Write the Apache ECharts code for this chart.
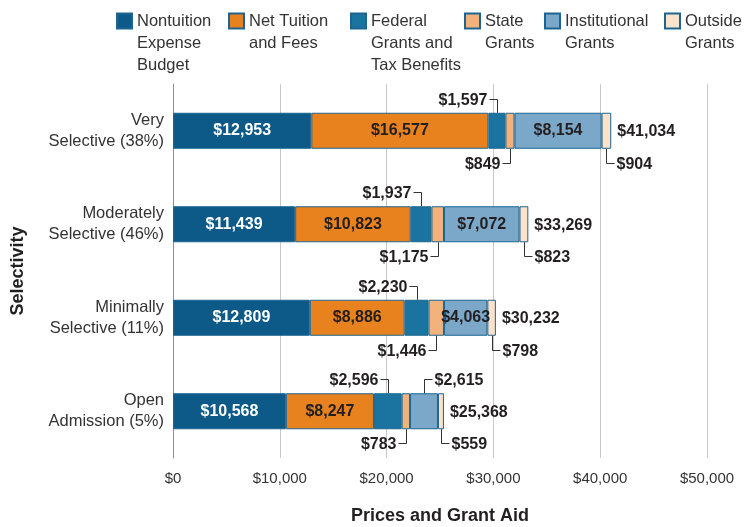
<!DOCTYPE html>
<html>
<head>
<meta charset="utf-8">
<script src="https://cdn.jsdelivr.net/npm/echarts@6/dist/echarts.min.js"></script>
<style>
  html, body { margin: 0; padding: 0; background: #fff; }
  #chart { width: 750px; height: 527px; }
</style>
</head>
<body>
<div id="chart"></div>
<script>
// categories (top to bottom)
const categories = [
  'Very\nSelective (38%)',
  'Moderately\nSelective (46%)',
  'Minimally\nSelective (11%)',
  'Open\nAdmission (5%)'
];

// series values, same order as categories
const nontuition = [12953, 11439, 12809, 10568];
const netTuition = [16577, 10823, 8886, 8247];
const federalGrants = [1597, 1937, 2230, 2596];
const stateGrants = [849, 1175, 1446, 783];
const institutionalGrants = [8154, 7072, 4063, 2615];
const outsideGrants = [904, 823, 798, 559];

const seriesNames = [
  'Nontuition\nExpense\nBudget',
  'Net Tuition\nand Fees',
  'Federal\nGrants and\nTax Benefits',
  'State\nGrants',
  'Institutional\nGrants',
  'Outside\nGrants'
];
const colors = ['#0d5a88', '#e8821e', '#1b74a0', '#f2b27b', '#7ba7c9', '#fbe2cb'];
const allSeries = [nontuition, netTuition, federalGrants, stateGrants, institutionalGrants, outsideGrants];

// where institutional grants label does not fit inside the bar
const institutionalOutside = [false, false, false, true];

const FONT = "'Liberation Sans', Arial, sans-serif";
const TEXT = '#231f20';
const fmt = v => '$' + Number(v).toLocaleString('en-US');

const totals = categories.map((c, i) => allSeries.reduce((s, arr) => s + arr[i], 0));

const chart = echarts.init(document.getElementById('chart'));

const valueLabel = (color) => ({
  show: true,
  position: 'inside',
  color: color,
  fontFamily: FONT,
  fontWeight: 'bold',
  fontSize: 16,
  formatter: p => fmt(p.value)
});

const barSeries = seriesNames.map((name, k) => {
  let data = allSeries[k].slice();
  let label = { show: false };
  if (k === 0) label = valueLabel('#fff');
  if (k === 1) label = valueLabel(TEXT);
  if (k === 4) {
    label = valueLabel(TEXT);
    data = data.map((v, i) => institutionalOutside[i] ? { value: v, label: { show: false } } : v);
  }
  return {
    name: name,
    type: 'bar',
    stack: 'total',
    barWidth: 36,
    data: data,
    label: label,
    itemStyle: { color: colors[k], borderColor: '#1d6590', borderWidth: 1 },
    emphasis: { disabled: true }
  };
});

function renderAnnotations(params, api) {
  const i = params.dataIndex;
  const yc = api.coord([0, i])[1];
  const half = 18;
  const segs = allSeries.map(arr => arr[i]);
  const starts = [], ends = [];
  let acc = 0;
  segs.forEach(v => { starts.push(acc); acc += v; ends.push(acc); });
  const mid = k => api.coord([(starts[k] + ends[k]) / 2, i])[0];
  const children = [];
  const textEl = (text, x, y, align) => ({
    type: 'text',
    style: {
      text: text, x: x, y: y, align: align, verticalAlign: 'middle',
      fill: TEXT, fontFamily: FONT, fontWeight: 'bold', fontSize: 16
    }
  });
  function leader(k, above, toRight) {
    const x = Math.round(mid(k)) + 0.5;
    const y0 = above ? yc - half : yc + half;
    const y1 = Math.round(above ? y0 - 14 : y0 + 14) + 0.5;
    const x1 = toRight ? x + 8 : x - 8;
    children.push({
      type: 'polyline',
      shape: { points: [[x, y0], [x, y1], [x1, y1]] },
      style: { stroke: '#333', lineWidth: 1, fill: null }
    });
    children.push(textEl(fmt(segs[k]), toRight ? x1 + 2 : x1 - 2, y1 + 1, toRight ? 'left' : 'right'));
  }
  leader(2, true, false);
  leader(3, false, false);
  leader(5, false, true);
  if (institutionalOutside[i]) leader(4, true, true);
  children.push(textEl(fmt(totals[i]), api.coord([acc, i])[0] + 6, yc + 1, 'left'));
  return { type: 'group', children: children };
}

const legendLefts = [116, 228, 350, 464, 544, 664];
const legends = seriesNames.map((name, k) => ({
  data: [name],
  left: legendLefts[k],
  top: -34,
  padding: 0,
  itemWidth: 15,
  itemHeight: 15,
  icon: 'rect',
  selectedMode: false,
  formatter: n => {
    const lines = n.split('\n').length;
    return '\n\n' + n + '\n'.repeat(3 - lines);
  },
  textStyle: { fontFamily: FONT, fontSize: 16.5, lineHeight: 22, color: '#333' }
}));

chart.setOption({
  animation: false,
  color: colors,
  legend: legends,
  grid: { left: 173, right: 43, top: 84, bottom: 69, containLabel: false, outerBoundsMode: 'none' },
  xAxis: {
    type: 'value',
    min: 0,
    max: 50000,
    interval: 10000,
    name: 'Prices and Grant Aid',
    nameLocation: 'middle',
    nameGap: 49,
    nameMoveOverlap: false,
    nameTextStyle: { fontFamily: FONT, fontWeight: 'bold', fontSize: 18, color: TEXT, verticalAlign: 'top' },
    axisLine: { show: false },
    axisTick: { show: false },
    axisLabel: { fontFamily: FONT, fontSize: 15, color: '#333', margin: 13, formatter: v => fmt(v) },
    splitLine: { show: true, lineStyle: { color: '#c8c8c8', width: 1 } }
  },
  yAxis: {
    type: 'category',
    inverse: true,
    data: categories,
    name: 'Selectivity',
    nameLocation: 'middle',
    nameGap: 146,
    nameRotate: 90,
    nameMoveOverlap: false,
    nameTextStyle: { fontFamily: FONT, fontWeight: 'bold', fontSize: 18, color: TEXT },
    axisLine: { show: true, lineStyle: { color: '#8f8f8f', width: 1 } },
    axisTick: { show: false },
    axisLabel: { fontFamily: FONT, fontSize: 16.5, lineHeight: 21, color: '#333', margin: 9 },
    splitLine: { show: false }
  },
  series: barSeries.concat([{
    type: 'custom',
    name: 'annotations',
    coordinateSystem: 'cartesian2d',
    renderItem: renderAnnotations,
    data: totals.map((t, i) => [t, i]),
    encode: { x: 0, y: 1 },
    clip: false,
    silent: true,
    z: 10
  }])
});
</script>
</body>
</html>
